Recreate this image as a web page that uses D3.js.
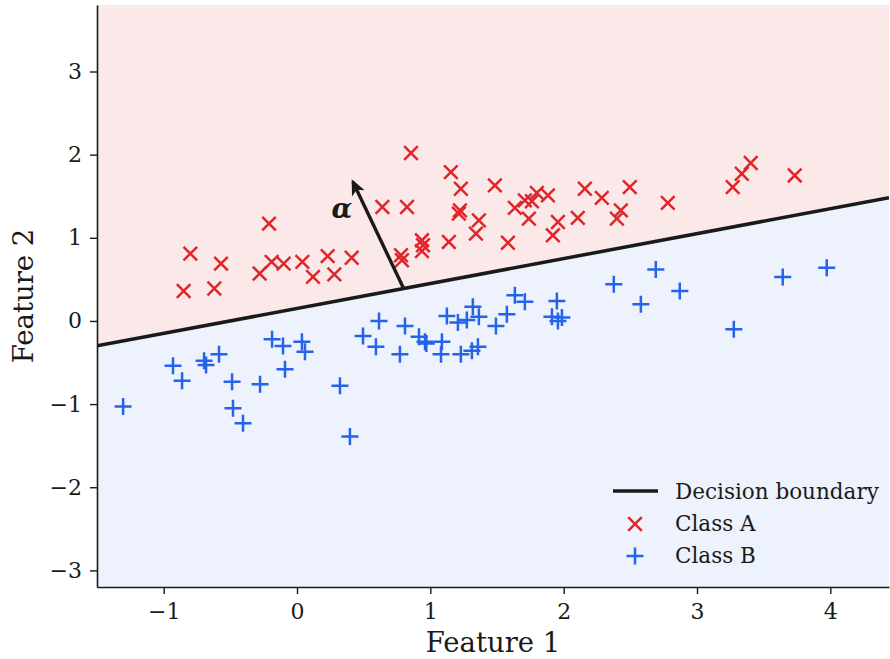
<!DOCTYPE html>
<html>
<head>
<meta charset="utf-8">
<script src="https://cdn.jsdelivr.net/npm/d3@7"></script>
<style>
  body { margin: 0; background: #fff; }
  svg { font-family: "DejaVu Serif", serif; }
</style>
</head>
<body>
<div id="chart"></div>
<script>
// class A points (red x)
const classA = [
  [-0.85, 0.36], [-0.80, 0.81], [-0.62, 0.39], [-0.57, 0.69], [-0.28, 0.57],
  [-0.21, 1.17], [-0.19, 0.71], [-0.10, 0.69], [0.04, 0.71], [0.12, 0.53],
  [0.23, 0.78], [0.28, 0.56], [0.41, 0.76], [0.64, 1.37], [0.855, 2.02],
  [0.825, 1.37], [1.154, 1.79], [1.229, 1.59], [1.484, 1.63], [1.222, 1.33],
  [1.214, 1.29], [1.364, 1.21], [1.342, 1.05], [1.139, 0.95], [1.582, 0.94],
  [1.634, 1.36], [1.709, 1.45], [1.739, 1.23], [1.762, 1.44], [1.799, 1.54],
  [1.882, 1.51], [1.957, 1.19], [1.919, 1.03], [2.106, 1.24], [2.159, 1.59],
  [2.286, 1.48], [2.429, 1.33], [2.399, 1.23], [2.496, 1.61], [2.781, 1.42],
  [0.78, 0.79], [0.787, 0.73], [0.937, 0.97], [0.945, 0.91], [0.937, 0.84],
  [3.268, 1.61], [3.336, 1.77], [3.403, 1.90], [3.733, 1.75]
];

// class B points (blue +)
const classB = [
  [-1.304, -1.03], [-0.93, -0.54], [-0.862, -0.72], [-0.697, -0.48], [-0.682, -0.53],
  [-0.585, -0.40], [-0.487, -0.73], [-0.48, -1.05], [-0.405, -1.23], [-0.277, -0.76],
  [-0.187, -0.22], [-0.105, -0.30], [-0.09, -0.58], [0.037, -0.25], [0.06, -0.37],
  [0.322, -0.78], [0.397, -1.39], [0.495, -0.18], [0.615, 0.0], [0.592, -0.31],
  [0.772, -0.40], [0.81, -0.06], [0.915, -0.19], [0.96, -0.25], [0.97, -0.27],
  [1.08, -0.40], [1.087, -0.25], [1.124, 0.06], [1.207, -0.02], [1.229, -0.40],
  [1.274, 0.01], [1.319, 0.17], [1.312, -0.36], [1.364, 0.05], [1.357, -0.31],
  [1.492, -0.06], [1.574, 0.08], [1.634, 0.31], [1.709, 0.23], [1.949, 0.24],
  [1.912, 0.05], [1.957, 0.0], [1.987, 0.04], [2.376, 0.44], [2.579, 0.20],
  [2.691, 0.62], [2.871, 0.36], [3.643, 0.53], [3.973, 0.64], [3.276, -0.10]
];

// decision boundary y = slope * x + intercept
const boundary = { slope: 0.30, intercept: 0.15 };
// normal vector arrow (tail, head)
const arrowPts = [[0.80, 0.39], [0.42, 1.67]];
const xTicks = [-1, 0, 1, 2, 3, 4];
const yTicks = [-3, -2, -1, 0, 1, 2, 3];
const xDomain = [-1.5, 4.44];
const yDomain = [-3.2, 3.8];

const W = 890, H = 659;
const margin = { left: 97, right: 1, top: 5, bottom: 72 };
const red = '#e0262a', blue = '#2563eb';
const ink = '#1a1a1a';

const svg = d3.select('#chart').append('svg')
  .attr('width', W).attr('height', H);

const x = d3.scaleLinear().domain(xDomain).range([margin.left, W - margin.right]);
const y = d3.scaleLinear().domain(yDomain).range([H - margin.bottom, margin.top]);

const defs = svg.append('defs');
defs.append('clipPath').attr('id', 'plot-clip')
  .append('rect')
  .attr('x', x(xDomain[0])).attr('y', y(yDomain[1]))
  .attr('width', x(xDomain[1]) - x(xDomain[0]))
  .attr('height', y(yDomain[0]) - y(yDomain[1]));

const plot = svg.append('g').attr('clip-path', 'url(#plot-clip)');

const by = xv => boundary.slope * xv + boundary.intercept;

// shaded regions either side of the boundary
const upper = [[xDomain[0], by(xDomain[0])], [xDomain[1], by(xDomain[1])], [xDomain[1], yDomain[1]], [xDomain[0], yDomain[1]]];
const lower = [[xDomain[0], by(xDomain[0])], [xDomain[1], by(xDomain[1])], [xDomain[1], yDomain[0]], [xDomain[0], yDomain[0]]];
const poly = d3.line().x(d => x(d[0])).y(d => y(d[1]));
plot.append('path').attr('d', poly(upper) + 'Z').attr('fill', '#fbe8e8');
plot.append('path').attr('d', poly(lower) + 'Z').attr('fill', '#edf2fc');

plot.append('line')
  .attr('x1', x(xDomain[0])).attr('y1', y(by(xDomain[0])))
  .attr('x2', x(xDomain[1])).attr('y2', y(by(xDomain[1])))
  .attr('stroke', ink).attr('stroke-width', 3.5);

// markers
const s = 6.8;
const xPath = `M${-s},${-s}L${s},${s}M${-s},${s}L${s},${-s}`;
plot.append('g').selectAll('path')
  .data(classA).enter().append('path')
  .attr('transform', d => `translate(${x(d[0])},${y(d[1])})`)
  .attr('d', xPath)
  .attr('stroke', red).attr('stroke-width', 2.5).attr('fill', 'none');

const p = 8.5;
const plusPath = `M${-p},0L${p},0M0,${-p}L0,${p}`;
plot.append('g').selectAll('path')
  .data(classB).enter().append('path')
  .attr('transform', d => `translate(${x(d[0])},${y(d[1])})`)
  .attr('d', plusPath)
  .attr('stroke', blue).attr('stroke-width', 2.5).attr('fill', 'none');

// arrow
defs.append('marker').attr('id', 'head')
  .attr('viewBox', '0 0 10 10').attr('refX', 8).attr('refY', 5)
  .attr('markerWidth', 4.6).attr('markerHeight', 4.6)
  .attr('markerUnits', 'strokeWidth').attr('orient', 'auto')
  .append('path').attr('d', 'M0,0.5L10,5L0,9.5L2.5,5Z').attr('fill', ink);

svg.append('line')
  .attr('x1', x(arrowPts[0][0])).attr('y1', y(arrowPts[0][1]))
  .attr('x2', x(arrowPts[1][0])).attr('y2', y(arrowPts[1][1]))
  .attr('stroke', ink).attr('stroke-width', 3.4)
  .attr('marker-end', 'url(#head)');

svg.append('text')
  .attr('x', 342).attr('y', 218)
  .attr('text-anchor', 'middle')
  .attr('font-size', 27).attr('font-weight', 'bold').attr('font-style', 'italic')
  .attr('fill', ink)
  .text('α');

// axes
const fmt = d => d < 0 ? '\u2212' + Math.abs(d) : String(d);
const xAxis = svg.append('g')
  .attr('transform', `translate(0,${H - margin.bottom})`)
  .call(d3.axisBottom(x).tickValues(xTicks).tickFormat(fmt).tickSize(7).tickPadding(9).tickSizeOuter(0));
const yAxis = svg.append('g')
  .attr('transform', `translate(${margin.left},0)`)
  .call(d3.axisLeft(y).tickValues(yTicks).tickFormat(fmt).tickSize(7).tickPadding(8).tickSizeOuter(0));

[xAxis, yAxis].forEach(a => {
  a.selectAll('text').attr('font-size', 22).attr('font-family', '"DejaVu Serif", serif').attr('fill', ink);
  a.selectAll('line').attr('stroke', ink).attr('stroke-width', 1.4);
  a.select('.domain').attr('stroke', ink).attr('stroke-width', 1.6);
});

svg.append('text')
  .attr('x', (x(xDomain[0]) + x(xDomain[1])) / 2).attr('y', 652)
  .attr('text-anchor', 'middle').attr('font-size', 27.5).attr('fill', ink)
  .text('Feature 1');

svg.append('text')
  .attr('transform', `translate(33,${(y(yDomain[0]) + y(yDomain[1])) / 2}) rotate(-90)`)
  .attr('text-anchor', 'middle').attr('font-size', 27.5).attr('fill', ink)
  .text('Feature 2');

// legend
const legend = svg.append('g').attr('transform', 'translate(613,491)');
const legendItems = ['Decision boundary', 'Class A', 'Class B'];
legendItems.forEach((label, i) => {
  const g = legend.append('g').attr('transform', `translate(0,${i * 32})`);
  if (i === 0) {
    g.append('line').attr('x1', 0).attr('x2', 45).attr('y1', 0).attr('y2', 0)
      .attr('stroke', ink).attr('stroke-width', 3.5);
  } else {
    g.append('path').attr('transform', 'translate(22,1)')
      .attr('d', i === 1 ? xPath : plusPath)
      .attr('stroke', i === 1 ? red : blue).attr('stroke-width', 2.5).attr('fill', 'none');
  }
  g.append('text').attr('x', 62).attr('y', 8)
    .attr('font-size', 21.5).attr('fill', ink).text(label);
});
</script>
</body>
</html>
